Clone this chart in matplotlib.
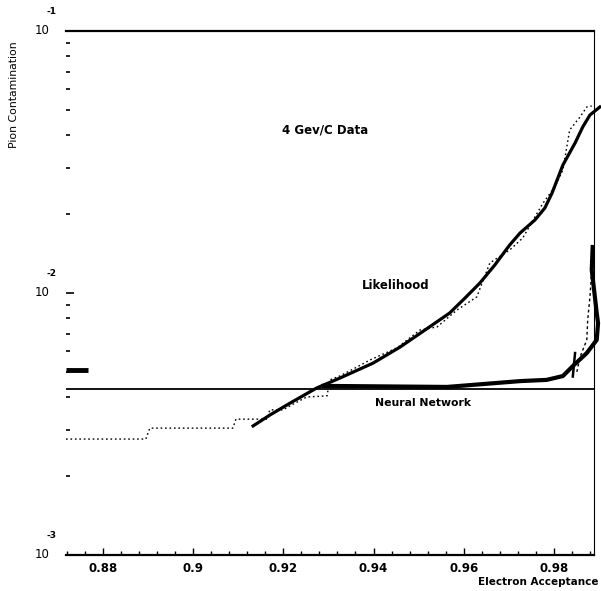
import matplotlib
matplotlib.use("Agg")
import matplotlib.pyplot as plt
import matplotlib.transforms as mtransforms
from matplotlib.ticker import FixedLocator, MultipleLocator, LogLocator, NullFormatter

# Likelihood method: smooth curve
like_x = [0.9133, 0.9170, 0.9215, 0.9274, 0.9326, 0.9399, 0.9459, 0.9514, 0.9569,
          0.9603, 0.9636, 0.9669, 0.9702, 0.9725, 0.9758, 0.9780, 0.9796, 0.9820,
          0.9847, 0.9864, 0.9880, 0.9902]
like_y = [0.00311, 0.00342, 0.00380, 0.00434, 0.00474, 0.00540, 0.00622, 0.00722,
          0.00839, 0.00957, 0.01092, 0.01279, 0.01525, 0.01694, 0.01900, 0.02111,
          0.02408, 0.03080, 0.03737, 0.04301, 0.04779, 0.05128]

# Likelihood method: stepped data points (dotted)
like_pts_x = [0.8718, 0.8895, 0.8904, 0.9088, 0.9095, 0.9164, 0.9170, 0.9199, 0.9226,
              0.9252, 0.9297, 0.9303, 0.9325, 0.9359, 0.9392, 0.9452, 0.9503, 0.9541,
              0.9585, 0.9629, 0.9658, 0.9702, 0.9731, 0.9776, 0.9802, 0.9820, 0.9835,
              0.9858, 0.9873, 0.9884]
like_pts_y = [0.00277, 0.00277, 0.00305, 0.00305, 0.00330, 0.00330, 0.00358, 0.00358,
              0.00380, 0.00401, 0.00405, 0.00466, 0.00482, 0.00517, 0.00555, 0.00617,
              0.00722, 0.00742, 0.00861, 0.00966, 0.01302, 0.01459, 0.01622, 0.02205,
              0.02539, 0.02948, 0.04189, 0.04697, 0.05128, 0.05173]

# Neural network: flat level and curve
nn_level = 0.0043
nn_x = [0.9289, 0.9563, 0.9725, 0.9784, 0.9820, 0.9842, 0.9873, 0.9895, 0.9898,
        0.9895, 0.9891, 0.9884, 0.9886]
nn_y = [0.00442, 0.00438, 0.00461, 0.00466, 0.00482, 0.00526, 0.00590, 0.00662,
        0.00768, 0.00839, 0.00966, 0.01224, 0.01498]
nn_pts_x = [0.9851, 0.9858, 0.9873, 0.9875, 0.9880, 0.9884]
nn_pts_y = [0.00500, 0.00570, 0.00662, 0.00788, 0.00966, 0.01224]
nn_spike_x = [0.9842, 0.9847]
nn_spike_y = [0.00480, 0.00590]
stub_x = [0.8718, 0.8767]
stub_y = [0.00508, 0.00508]

x_ticks = [0.88, 0.90, 0.92, 0.94, 0.96, 0.98]
x_tick_labels = ["0.88", "0.9", "0.92", "0.94", "0.96", "0.98"]
y_ticks = [1e-3, 1e-2, 1e-1]
y_exponents = ["-3", "-2", "-1"]

fig = plt.figure(figsize=(6.01, 5.91), dpi=100)
ax = fig.add_axes([66 / 601, 1 - 555 / 591, 528 / 601, 524 / 591])
ax.set_yscale("log")
ax.set_xlim(0.8718, 0.9889)
ax.set_ylim(1e-3, 1e-1)

ink = "black"
ax.axhline(nn_level, color=ink, lw=1.3)
ax.plot(stub_x, stub_y, color=ink, lw=3.5, solid_capstyle="butt")
ax.plot(like_pts_x, like_pts_y, color=ink, lw=1.0, ls=(0, (1.2, 2.0)), clip_on=False)
ax.plot(like_x, like_y, color=ink, lw=2.3, clip_on=False)
ax.plot(nn_pts_x, nn_pts_y, color=ink, lw=1.0, ls=(0, (2, 2)), clip_on=False)
ax.plot(nn_x, nn_y, color=ink, lw=3.0, clip_on=False)
ax.plot(nn_spike_x, nn_spike_y, color=ink, lw=1.8)

font = dict(family="DejaVu Sans", weight="bold", color=ink)
ax.text(0.9197, 0.0419, "4 Gev/C Data", fontsize=8.5, va="center", **font)
ax.text(0.9374, 0.01064, "Likelihood", fontsize=8.5, va="center", **font)
ax.text(0.9403, 0.0038, "Neural Network", fontsize=7.8, va="center", **font)

# spines: no left spine, heavy top and bottom, thin right
ax.spines["left"].set_visible(False)
ax.spines["top"].set_linewidth(1.6)
ax.spines["bottom"].set_linewidth(1.6)
ax.spines["right"].set_linewidth(0.8)

ax.xaxis.set_major_locator(FixedLocator(x_ticks))
ax.xaxis.set_minor_locator(MultipleLocator(0.004))
ax.set_xticklabels(x_tick_labels, fontsize=8.5, **font)
ax.tick_params(axis="x", which="both", direction="in", top=False, pad=5)
ax.tick_params(axis="x", which="major", length=5, width=1)
ax.tick_params(axis="x", which="minor", length=3, width=1)

ax.yaxis.set_major_locator(FixedLocator(y_ticks))
ax.yaxis.set_minor_locator(LogLocator(base=10, subs=range(2, 10)))
ax.yaxis.set_major_formatter(NullFormatter())
ax.yaxis.set_minor_formatter(NullFormatter())
ax.tick_params(axis="y", which="both", direction="in", right=False)
ax.tick_params(axis="y", which="major", length=6, width=1.2)
ax.tick_params(axis="y", which="minor", length=3, width=1.2)

trans = mtransforms.blended_transform_factory(ax.transAxes, ax.transData)
for yv, ex in zip(y_ticks, y_exponents):
    ax.annotate("10", xy=(0, yv), xycoords=trans, xytext=(-12, 0),
                textcoords="offset points", ha="right", va="center",
                fontsize=8.5, family="DejaVu Sans", color=ink)
    ax.annotate(ex, xy=(0, yv), xycoords=trans, xytext=(-7, 14),
                textcoords="offset points", ha="right", va="center",
                fontsize=6.5, family="DejaVu Sans", weight="bold", color=ink)

fig.text(14 / 601, 1 - 95 / 591, "Pion Contamination", rotation=90,
         ha="center", va="center", fontsize=7.8, family="DejaVu Sans", color=ink)
fig.text(598 / 601, 1 - 582 / 591, "Electron Acceptance", ha="right",
         va="center", fontsize=7.5, **font)

fig.savefig("out.png", dpi=100)
